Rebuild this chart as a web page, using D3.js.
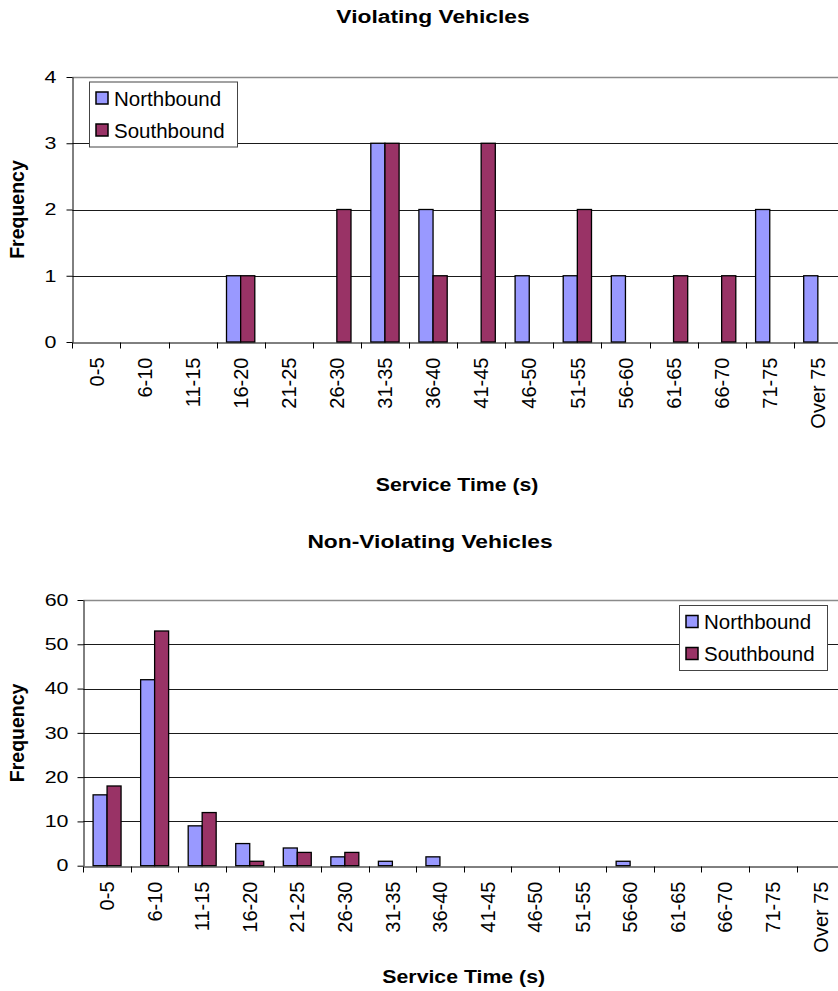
<!DOCTYPE html>
<html>
<head>
<meta charset="utf-8">
<script src="https://cdn.jsdelivr.net/npm/d3@7"></script>
<style>
  html, body { margin: 0; padding: 0; background: #fff; }
  svg { display: block; font-family: "Liberation Sans", Arial, sans-serif; }
</style>
</head>
<body>
<svg id="chart" width="838" height="991"></svg>
<script>
// Service-time bins shared by both histograms
const categories = ["0-5", "6-10", "11-15", "16-20", "21-25", "26-30", "31-35", "36-40",
  "41-45", "46-50", "51-55", "56-60", "61-65", "66-70", "71-75", "Over 75"];

// Violating vehicles (frequency per bin)
const violatingNorth = [0, 0, 0, 1, 0, 0, 3, 2, 0, 1, 1, 1, 0, 0, 2, 1];
const violatingSouth = [0, 0, 0, 1, 0, 2, 3, 1, 3, 0, 2, 0, 1, 1, 0, 0];
const violatingTicks = [0, 1, 2, 3, 4];

// Non-violating vehicles (frequency per bin)
const nonViolatingNorth = [16, 42, 9, 5, 4, 2, 1, 2, 0, 0, 0, 1, 0, 0, 0, 0];
const nonViolatingSouth = [18, 53, 12, 1, 3, 3, 0, 0, 0, 0, 0, 0, 0, 0, 0, 0];
const nonViolatingTicks = [0, 10, 20, 30, 40, 50, 60];

const seriesNames = ["Northbound", "Southbound"];
const seriesColors = ["#9999FF", "#993366"];

const svg = d3.select("#chart");
const tickStretch = 1.3;

function drawChart(cfg) {
  const g = svg.append("g");
  const x = d3.scaleBand().domain(categories).range([cfg.left, cfg.left + cfg.width]);
  const xs = d3.scaleBand().domain(seriesNames).range([0, x.bandwidth()]).paddingOuter(0.7);
  const yMax = cfg.ticks[cfg.ticks.length - 1];
  const y = d3.scaleLinear().domain([0, yMax]).range([cfg.bottom, cfg.top]);

  // horizontal gridlines
  g.selectAll("line.grid").data(cfg.ticks.filter(t => t > 0)).join("line")
    .attr("class", "grid")
    .attr("x1", cfg.left).attr("x2", cfg.left + cfg.width)
    .attr("y1", d => Math.round(y(d)) + 0.5).attr("y2", d => Math.round(y(d)) + 0.5)
    .attr("stroke", d => d === yMax ? "#8a8a8a" : "#1a1a1a")
    .attr("stroke-width", d => d === yMax ? 1.6 : 1);

  // bars
  const rows = categories.map((c, i) => ({ c, v: [cfg.north[i], cfg.south[i]] }));
  const grp = g.selectAll("g.cat").data(rows).join("g")
    .attr("transform", d => `translate(${x(d.c)},0)`);
  grp.selectAll("rect").data(d => d.v.map((v, k) => ({ v, k })).filter(e => e.v > 0)).join("rect")
    .attr("x", e => xs(seriesNames[e.k]))
    .attr("width", xs.bandwidth())
    .attr("y", e => y(e.v))
    .attr("height", e => y(0) - y(e.v))
    .attr("fill", e => seriesColors[e.k])
    .attr("stroke", "#000")
    .attr("stroke-width", 1.3);

  // y axis
  const yAxis = g.append("g")
    .attr("transform", `translate(${Math.round(cfg.left) + 0.5},0)`)
    .call(d3.axisLeft(y).tickValues(cfg.ticks).tickFormat(d3.format("d"))
      .tickSize(6).tickSizeOuter(0));
  yAxis.select(".domain").attr("stroke", "#000");
  yAxis.selectAll(".tick line").attr("stroke", "#000");
  yAxis.selectAll(".tick text")
    .attr("font-size", 16.5).attr("fill", "#000")
    .attr("font-family", "Liberation Sans, Arial, sans-serif")
    .attr("x", -cfg.tickGap / tickStretch)
    .attr("transform", `scale(${tickStretch},1)`);

  // x axis: labels centred on bins, tick marks on bin boundaries
  const xAxis = g.append("g")
    .attr("transform", `translate(0,${Math.round(cfg.bottom) + 0.5})`)
    .call(d3.axisBottom(x).tickSize(0).tickSizeOuter(0));
  xAxis.select(".domain").attr("stroke", "#000");
  xAxis.selectAll(".tick text")
    .attr("font-size", 20).attr("fill", "#000")
    .attr("font-family", "Liberation Sans, Arial, sans-serif")
    .attr("text-anchor", "end")
    .attr("transform", "rotate(-90)")
    .attr("x", -15).attr("y", 0).attr("dy", "0.36em");
  const bounds = categories.map(c => x(c)).concat([x.range()[1]]);
  xAxis.selectAll("line.bound").data(bounds).join("line")
    .attr("class", "bound")
    .attr("x1", d => Math.round(d) + 0.5).attr("x2", d => Math.round(d) + 0.5)
    .attr("y1", 0).attr("y2", 6)
    .attr("stroke", "#000");

  // titles
  g.append("text")
    .attr("transform", `translate(${cfg.titleX},${cfg.titleY}) scale(1.2,1)`)
    .attr("text-anchor", "middle").attr("font-weight", "bold").attr("font-size", 19)
    .text(cfg.title);
  g.append("text")
    .attr("transform", `translate(${cfg.left + cfg.width / 2},${cfg.xTitleY}) scale(1.15,1)`)
    .attr("text-anchor", "middle").attr("font-weight", "bold").attr("font-size", 18.5)
    .text("Service Time (s)");
  g.append("text")
    .attr("transform", `translate(24,${(cfg.top + cfg.bottom) / 2}) rotate(-90)`)
    .attr("text-anchor", "middle").attr("font-weight", "bold").attr("font-size", 19.5)
    .text("Frequency");

  // legend
  const lg = g.append("g").attr("transform", `translate(${cfg.legX},${cfg.legY})`);
  lg.append("rect").attr("x", 0.5).attr("y", 0.5).attr("width", 148).attr("height", 65)
    .attr("fill", "#fff").attr("stroke", "#444").attr("stroke-width", 1);
  seriesNames.forEach((name, k) => {
    lg.append("rect").attr("x", 7).attr("y", 10.5 + k * 32).attr("width", 12).attr("height", 12)
      .attr("fill", seriesColors[k]).attr("stroke", "#000").attr("stroke-width", 1.5);
    lg.append("text").attr("x", 25).attr("y", 24 + k * 32)
      .attr("font-size", 20.5).attr("fill", "#000").text(name);
  });
}

drawChart({
  title: "Violating Vehicles", titleX: 433, titleY: 22.5,
  left: 72.3, width: 769.6, top: 77, bottom: 342, tickGap: 16,
  ticks: violatingTicks, north: violatingNorth, south: violatingSouth,
  xTitleY: 491, legX: 89, legY: 81.5
});

drawChart({
  title: "Non-Violating Vehicles", titleX: 430, titleY: 547.5,
  left: 83.3, width: 760.8, top: 600, bottom: 865.7, tickGap: 15,
  ticks: nonViolatingTicks, north: nonViolatingNorth, south: nonViolatingSouth,
  xTitleY: 983, legX: 679, legY: 605
});
</script>
</body>
</html>
